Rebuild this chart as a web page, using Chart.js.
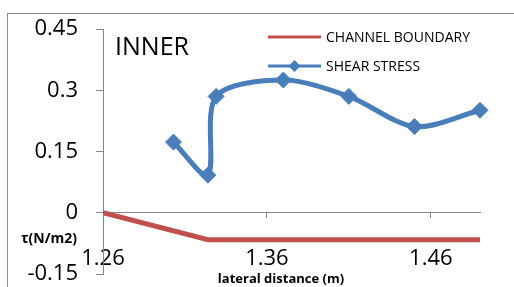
<!DOCTYPE html>
<html>
<head>
<meta charset="utf-8">
<script src="https://cdn.jsdelivr.net/npm/chart.js@4"></script>
<style>
  html, body { margin: 0; padding: 0; background: #fff; }
  #wrap { width: 514px; height: 287px; position: relative; }
</style>
</head>
<body>
<div id="wrap"><canvas id="c" width="514" height="287"></canvas></div>
<script>
// ---- data ----
const shearX = [1.303, 1.324, 1.329, 1.370, 1.410, 1.450, 1.490];
const shearY = [0.173, 0.092, 0.285, 0.325, 0.285, 0.211, 0.251];
const boundaryX = [1.26, 1.324, 1.49];
const boundaryY = [0, -0.066, -0.066];
const xTicks = [1.26, 1.36, 1.46];
const yTicks = [-0.15, 0, 0.15, 0.3, 0.45];
const seriesNames = ['CHANNEL BOUNDARY', 'SHEAR STRESS'];
const chartTitle = 'INNER';
const yTitle = 'τ(N/m2)';
const xTitle = 'lateral distance (m)';

const RED = '#C0504D';
const BLUE = '#4A7EBB';
const AXIS = '#868686';
const FONT = "'Open Sans', 'Liberation Sans', sans-serif";

const toPts = (xs, ys) => xs.map((x, i) => ({ x: x, y: ys[i] }));

const decor = {
  id: 'decor',
  beforeDraw(chart) {
    const ctx = chart.ctx;
    ctx.save();
    ctx.strokeStyle = '#8C8C8C';
    ctx.lineWidth = 1;
    ctx.strokeRect(7.5, 13.5, 600, 400);
    ctx.restore();
  },
  afterDraw(chart) {
    const ctx = chart.ctx;
    ctx.save();
    ctx.fillStyle = '#000';
    // title
    ctx.font = "25px " + FONT;
    ctx.textAlign = 'left';
    ctx.textBaseline = 'alphabetic';
    ctx.fillText(chartTitle, 115, 55);
    // axis titles
    ctx.font = "bold 14px " + FONT;
    ctx.textAlign = 'center';
    ctx.textBaseline = 'middle';
    ctx.fillText(yTitle, 49, 239);
    ctx.font = "bold 13px " + FONT;
    ctx.fillText(xTitle, 281, 279);
    // legend
    ctx.font = "14px " + FONT;
    ctx.textAlign = 'left';
    const rows = [37, 66];
    const cols = [RED, BLUE];
    rows.forEach((y, i) => {
      ctx.strokeStyle = cols[i];
      ctx.lineWidth = 3;
      ctx.beginPath();
      ctx.moveTo(268, y);
      ctx.lineTo(321, y);
      ctx.stroke();
      if (i === 1) {
        ctx.fillStyle = BLUE;
        ctx.beginPath();
        ctx.moveTo(294.5, y - 6);
        ctx.lineTo(300.5, y);
        ctx.lineTo(294.5, y + 6);
        ctx.lineTo(288.5, y);
        ctx.closePath();
        ctx.fill();
      }
      ctx.fillStyle = '#000';
      ctx.fillText(seriesNames[i], 326, y + 1);
    });
    ctx.restore();
  }
};

new Chart(document.getElementById('c'), {
  type: 'scatter',
  data: {
    datasets: [
      {
        label: seriesNames[0],
        data: toPts(boundaryX, boundaryY),
        showLine: true,
        borderColor: RED,
        backgroundColor: RED,
        borderWidth: 5,
        pointRadius: 0,
        tension: 0
      },
      {
        label: seriesNames[1],
        data: toPts(shearX, shearY),
        showLine: true,
        clip: false,
        borderColor: BLUE,
        backgroundColor: BLUE,
        borderWidth: 5,
        pointStyle: 'rectRot',
        pointRadius: 8,
        pointBorderWidth: 1,
        tension: 0.3
      }
    ]
  },
  options: {
    responsive: false,
    animation: false,
    layout: { padding: { left: 0, right: 34, top: 29, bottom: 13 } },
    plugins: { legend: { display: false }, tooltip: { enabled: false } },
    scales: {
      x: {
        type: 'linear',
        position: { y: 0 },
        min: 1.26, max: 1.49,
        afterBuildTicks: s => { s.ticks = xTicks.map(v => ({ value: v })); },
        afterFit: s => { s.height = 0; },
        ticks: {
          callback: v => String(+v.toFixed(2)),
          color: '#000',
          font: { family: FONT, size: 22 },
          padding: 28,
          maxRotation: 0,
          autoSkip: false
        },
        grid: { drawOnChartArea: false, drawTicks: true, tickLength: 5, color: AXIS },
        border: { color: AXIS, width: 1 }
      },
      y: {
        type: 'linear',
        position: 'left',
        min: -0.15, max: 0.45,
        afterBuildTicks: s => { s.ticks = yTicks.map(v => ({ value: v })); },
        afterFit: s => { s.width = 103; s.paddingTop = 0; s.paddingBottom = 0; },
        ticks: {
          callback: v => String(+v.toFixed(2)),
          color: '#000',
          font: { family: FONT, size: 22 },
          padding: 18,
          autoSkip: false
        },
        grid: { drawOnChartArea: false, drawTicks: true, tickLength: 7, color: AXIS },
        border: { color: AXIS, width: 1 }
      }
    }
  },
  plugins: [decor]
});
</script>
</body>
</html>
